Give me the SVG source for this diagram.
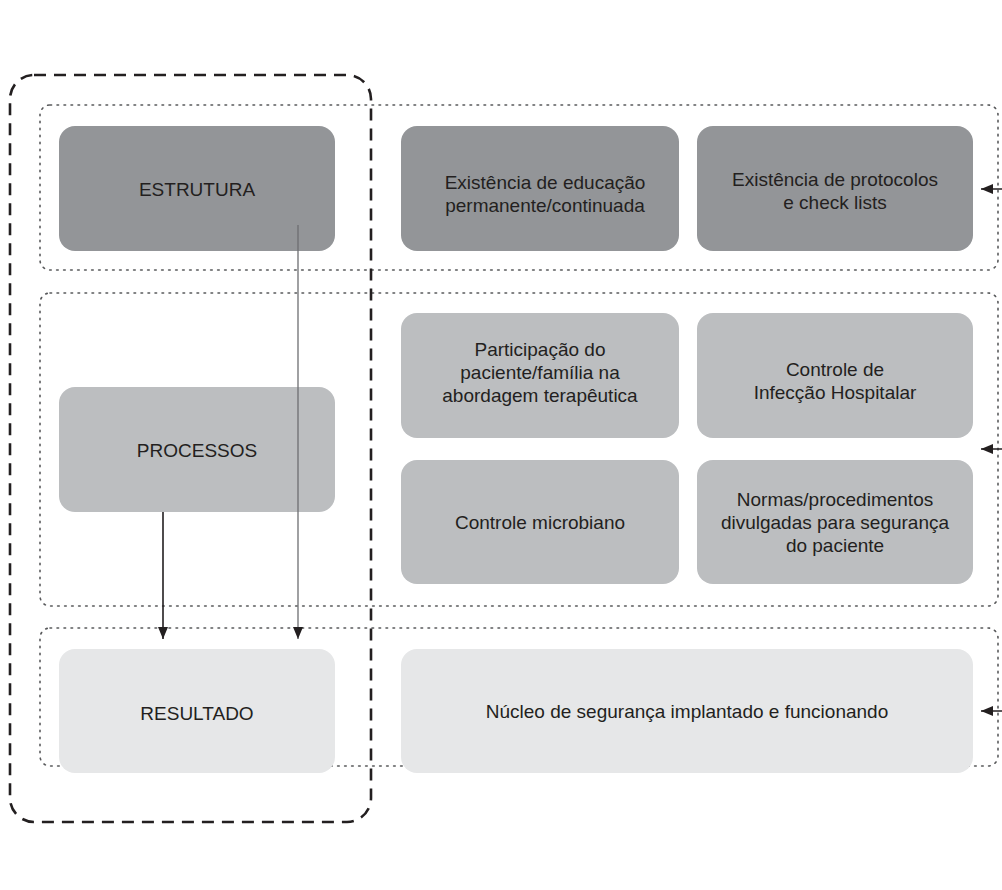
<svg xmlns="http://www.w3.org/2000/svg" width="1002" height="890" viewBox="0 0 1002 890">
<style>
.band{fill:none;stroke:#58595b;stroke-width:1.6;stroke-dasharray:1.6 5.4;stroke-linecap:round}
.frame{fill:none;stroke:#231f20;stroke-width:2.6;stroke-dasharray:12 8}
.d{fill:#939598}
.m{fill:#bcbec0}
.l{fill:#e6e7e8}
text{font-family:"Liberation Sans",Arial,sans-serif;font-size:19px;fill:#231f20;text-anchor:middle}
.conn{fill:none}
</style>
<defs>
<marker id="ah" viewBox="0 0 12 10" refX="12" refY="5" markerWidth="12" markerHeight="10" markerUnits="userSpaceOnUse" orient="auto">
<path d="M0,0 L12,5 L0,10 Z" fill="#231f20"/>
</marker>
</defs>
<rect width="1002" height="890" fill="#ffffff"/>
<g id="bands">
<rect class="band" x="40" y="105" width="958" height="165" rx="10"/>
<rect class="band" x="40" y="293" width="958" height="313" rx="10"/>
<rect class="band" x="40" y="628" width="958" height="138" rx="10"/>
</g>
<g id="frame">
<rect class="frame" x="10" y="75" width="361" height="747" rx="24"/>
</g>
<g id="estrutura"><rect class="d" x="59" y="126" width="276" height="125" rx="16"/><text x="197" y="196">ESTRUTURA</text></g>
<g id="educacao"><rect class="d" x="401" y="126" width="278" height="125" rx="16"/><text x="545" y="189">Existência de educação</text><text x="545" y="212">permanente/continuada</text></g>
<g id="protocolos"><rect class="d" x="697" y="126" width="276" height="125" rx="16"/><text x="835" y="186">Existência de protocolos</text><text x="835" y="209">e check lists</text></g>
<g id="processos"><rect class="m" x="59" y="387" width="276" height="125" rx="16"/><text x="197" y="457">PROCESSOS</text></g>
<g id="participacao"><rect class="m" x="401" y="313" width="278" height="125" rx="16"/><text x="540" y="356">Participação do</text><text x="540" y="379">paciente/família na</text><text x="540" y="402">abordagem terapêutica</text></g>
<g id="infeccao"><rect class="m" x="697" y="313" width="276" height="125" rx="16"/><text x="835" y="376">Controle de</text><text x="835" y="399">Infecção Hospitalar</text></g>
<g id="microbiano"><rect class="m" x="401" y="460" width="278" height="124" rx="16"/><text x="540" y="529">Controle microbiano</text></g>
<g id="normas"><rect class="m" x="697" y="460" width="276" height="124" rx="16"/><text x="835" y="506">Normas/procedimentos</text><text x="835" y="529">divulgadas para segurança</text><text x="835" y="552">do paciente</text></g>
<g id="resultado"><rect class="l" x="59" y="649" width="276" height="124" rx="16"/><text x="197" y="720">RESULTADO</text></g>
<g id="nucleo"><rect class="l" x="401" y="649" width="572" height="124" rx="16"/><text x="687" y="718">Núcleo de segurança implantado e funcionando</text></g>
<g id="connectors" class="conn">
<line x1="163" y1="512" x2="163" y2="639" stroke="#231f20" stroke-width="1.6" marker-end="url(#ah)"/>
<line x1="298" y1="225" x2="298" y2="639" stroke="#6d6e71" stroke-width="1.3" marker-end="url(#ah)"/>
<line x1="1002" y1="189" x2="981" y2="189" stroke="#231f20" stroke-width="1.5" marker-end="url(#ah)"/>
<line x1="1002" y1="449" x2="981" y2="449" stroke="#231f20" stroke-width="1.5" marker-end="url(#ah)"/>
<line x1="1002" y1="711" x2="981" y2="711" stroke="#231f20" stroke-width="1.5" marker-end="url(#ah)"/>
</g>
</svg>
